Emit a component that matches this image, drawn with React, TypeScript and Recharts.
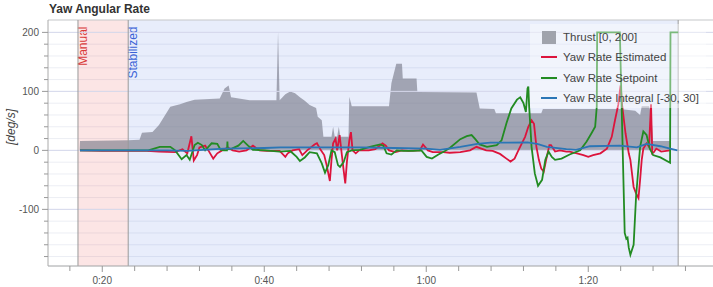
import React from 'react'
import {
  Area,
  CartesianGrid,
  ComposedChart,
  Legend,
  Line,
  ReferenceArea,
  ReferenceLine,
  XAxis,
  YAxis,
} from 'recharts'

// [time in s, value]
const thrust: [number, number][] = [
  [17.2, 0], [17.25, 16], [23.2, 17], [24.6, 18], [24.9, 30], [26.2, 31], [27.0, 43],
  [28.4, 74], [29.6, 78], [30.4, 82], [31.4, 86], [34.5, 88], [35.1, 105], [35.6, 110],
  [35.9, 90], [38.2, 85], [41.5, 85], [41.7, 201], [41.9, 85], [42.6, 95], [43.2, 100],
  [43.8, 97], [44.4, 90], [45.0, 84], [45.6, 77], [46.4, 72], [46.6, 57], [47.1, 51],
  [47.3, 23], [48.3, 23], [48.5, 40], [48.7, 23], [49.0, 23], [49.2, 40], [49.4, 23],
  [50.4, 23], [50.5, 91], [50.8, 75], [55.4, 75], [55.7, 114], [56.3, 147], [57.0, 147],
  [57.1, 122], [58.8, 122], [58.9, 99], [66.2, 98], [66.6, 71], [68.4, 70], [68.6, 63],
  [74.2, 63], [74.4, 70], [83.9, 70], [85.8, 67], [86.4, 60], [86.6, 75], [87.5, 75],
  [87.8, 60], [88.0, 16], [90.1, 16], [90.2, 0],
]

const estimated: [number, number][] = [
  [17.25, 0], [20, -1], [23.2, -1], [25.5, -1], [27.0, -2], [29.0, -3], [29.9, 2],
  [30.5, -5], [31.0, 24], [31.3, -17], [31.7, -8], [32.0, 5], [32.7, 8], [33.1, 0],
  [33.7, -14], [34.2, -5], [34.8, 0], [35.5, 5], [36.1, 0], [36.9, -2], [37.8, 0],
  [38.6, 8], [39.4, 0], [40.3, -1], [41.9, -1], [42.6, -11], [42.9, -5], [43.5, 0],
  [44.3, 2], [44.7, -8], [45.3, 0], [46.2, 10], [46.5, 12], [47.0, 0], [47.4, -8],
  [47.7, -25], [48.1, -52], [48.3, -16], [48.5, 12], [48.8, 20], [49.0, 0], [49.3, 26],
  [49.6, -10], [49.8, -34], [50.0, -56], [50.2, -20], [50.5, 17], [50.7, 31], [50.9, 0],
  [51.3, -5], [51.7, 0], [52.9, 0], [53.7, 2], [54.6, 12], [55.0, 8], [55.4, 0],
  [56.2, -3], [57.0, 0], [57.8, -1], [59.2, 0], [59.6, 10], [60.2, 0], [60.8, -3],
  [62.1, -3], [62.9, -4], [64.2, -3], [65.4, 0], [66.2, 6], [66.8, 3], [67.4, 0],
  [68.2, -1], [69.1, -6], [69.9, -14], [70.4, -19], [70.9, -14], [71.3, -2], [71.8, 12],
  [72.2, 23], [72.6, 40], [73.0, 51], [73.3, 45], [73.6, 6], [73.9, -16], [74.2, -31],
  [74.5, -36], [74.8, -16], [75.2, 9], [75.4, 9], [75.9, -2], [76.5, 0], [77.3, -2],
  [77.7, -2], [78.6, -5], [79.4, -8], [80.0, -11], [80.6, -8], [81.5, -5], [82.3, 3],
  [82.9, 23], [83.3, 51], [83.7, 77], [83.9, 100], [84.0, 110], [84.2, 74], [84.6, 29],
  [85.0, -5], [85.2, -16], [85.6, -62], [85.9, -73], [86.2, -81], [86.4, -50], [86.6, -16],
  [86.8, 3], [87.2, 12], [87.5, 6], [87.75, 78], [87.9, -5], [88.1, -3], [88.4, 3],
  [89.0, -2], [90.1, 0],
]

const setpoint: [number, number][] = [
  [17.25, 0], [25.7, 0], [27.1, 6], [28.4, 6], [29.0, 0], [29.8, -15], [30.4, -8],
  [30.8, -16], [31.4, 9], [31.8, 13], [32.3, 9], [32.7, 0], [33.1, 6], [33.5, 12],
  [34.2, 11], [34.6, 1], [35.0, 0], [35.4, 0], [35.45, 15], [35.5, 2], [36.0, 3],
  [36.8, 8], [37.4, 16], [38.0, 8], [38.6, 1], [40.1, 0], [41.9, -2], [43.2, -1],
  [44.0, -11], [44.4, -18], [45.0, -12], [45.6, -3], [46.5, -5], [47.1, -22], [47.5, -38],
  [47.9, -25], [48.3, 0], [48.7, -3], [49.1, -25], [49.35, -28], [49.8, -20], [50.2, -3],
  [50.8, 0], [51.8, 1], [53.05, 6], [54.3, 10], [54.7, 8], [55.1, -5], [55.7, -7],
  [56.35, 0], [57.2, -1], [58.4, -1], [59.4, 0], [60.05, -11], [60.7, -14], [61.5, -7],
  [62.3, -1], [62.9, 4], [64.2, 19], [65.0, 24], [65.6, 26], [66.0, 20], [66.6, 10],
  [67.5, 6], [68.7, 9], [69.3, 17], [69.9, 46], [70.5, 71], [71.2, 86], [71.6, 90],
  [72.0, 80], [72.3, 65], [72.5, 105], [72.6, 108], [72.7, 75], [73.0, 6], [73.4, -39],
  [73.8, -60], [74.3, -50], [74.7, -16], [75.1, -2], [75.5, -11], [75.9, -16], [76.7, -14],
  [77.7, -7], [79.0, 0], [79.8, 15], [80.4, 29], [80.85, 40], [81.05, 74], [81.1, 200],
  [83.9, 200], [84.5, -140], [84.7, -150], [84.85, -148], [85.0, -165], [85.2, -177],
  [85.6, -160], [85.9, -79], [86.4, 6], [86.8, 32], [87.2, 26], [87.6, 3], [88.0, -8],
  [88.9, -12], [90.1, -21], [90.15, 200], [91.1, 200],
]

const integral: [number, number][] = [
  [17.25, 0], [28, 0], [30.5, -1], [31.5, 0], [35, 3], [40, 4], [42, 5], [52, 5],
  [56, 4], [60, 3], [61.7, 1], [64.2, 6], [66.3, 11], [67.9, 13], [72.5, 13.5],
  [73.7, 11], [74.9, 6], [77.3, 2], [78.5, 1], [80.2, 7], [83.9, 8], [86.0, 5],
  [87.2, 11], [88.9, 7], [90.1, 3], [91.0, 0],
]

const xTicks = [16, 20, 24, 28, 32, 36, 40, 44, 48, 52, 56, 60, 64, 68, 72, 76, 80, 84, 88, 92]
const xLabelled = [20, 40, 60, 80]
const yTicks = [-180, -160, -140, -120, -100, -80, -60, -40, -20, 0, 20, 40, 60, 80, 100, 120, 140, 160, 180, 200]
const yMajor = [-100, 0, 100, 200]

const modes = [
  { name: 'Manual', from: 17.0, to: 23.2, fill: 'rgb(235,70,70)', text: '#d93a3a' },
  { name: 'Stabilized', from: 23.2, to: 91.1, fill: 'rgb(65,105,225)', text: '#3a62d6' },
]

const series = [
  { key: 'thrust', name: 'Thrust [0, 200]', color: '#a0a3ac' },
  { key: 'estimated', name: 'Yaw Rate Estimated', color: '#dc143c' },
  { key: 'setpoint', name: 'Yaw Rate Setpoint', color: '#228b22' },
  { key: 'integral', name: 'Yaw Rate Integral [-30, 30]', color: '#2b76b6' },
]

type Row = { t: number; [k: string]: number }

const byTime = new Map<number, Row>()
const addSeries = (key: string, pts: [number, number][]) => {
  pts.forEach(([t, v]) => {
    const row = byTime.get(t) ?? { t }
    row[key] = v
    byTime.set(t, row)
  })
}
addSeries('thrust', thrust)
addSeries('estimated', estimated)
addSeries('setpoint', setpoint)
addSeries('integral', integral)
const data = Array.from(byTime.values()).sort((a, b) => a.t - b.t)

const fmtTime = (t: number) => `${Math.floor(t / 60)}:${String(t % 60).padStart(2, '0')}`

const YTick = (props: any) => {
  const { x, y, payload } = props
  const major = yMajor.includes(payload.value)
  return (
    <g>
      <line x1={x - (major ? 6 : 4)} y1={y} x2={x} y2={y} stroke="#999" />
      {major && (
        <text x={x - 9} y={y} dy={3.5} textAnchor="end" fontSize={10} fill="#555">
          {payload.value}
        </text>
      )}
    </g>
  )
}

const XTick = (props: any) => {
  const { x, y, payload } = props
  const major = xLabelled.includes(payload.value)
  return (
    <g>
      <line x1={x} y1={y} x2={x} y2={y + (major ? 6 : 5)} stroke="#999" />
      {major && (
        <text x={x} y={y + 17.5} textAnchor="middle" fontSize={10} fill="#555">
          {fmtTime(payload.value)}
        </text>
      )}
    </g>
  )
}

const ModeLabel = (name: string, color: string) => (props: any) => {
  const { viewBox } = props
  const px = viewBox.x + 9
  const py = viewBox.y + 6.5
  return (
    <text
      x={px}
      y={py}
      transform={`rotate(-90 ${px} ${py})`}
      textAnchor="end"
      fontSize={12}
      fill={color}
    >
      {name}
    </text>
  )
}

const renderLegend = () => (
  <div
    style={{
      background: 'rgba(255,255,255,0.4)',
      padding: '3px 6px 0 11px',
      fontSize: 11.5,
      color: '#444',
      lineHeight: '20.3px',
    }}
  >
    {series.map((s) => (
      <div key={s.key} style={{ display: 'flex', alignItems: 'center' }}>
        {s.key === 'thrust' ? (
          <span style={{ display: 'inline-block', width: 14, height: 13, margin: '0 1px', background: s.color }} />
        ) : (
          <span style={{ display: 'inline-block', width: 16, height: 2, background: s.color }} />
        )}
        <span style={{ marginLeft: 6, whiteSpace: 'nowrap' }}>{s.name}</span>
      </div>
    ))}
  </div>
)

const App = () => {
  return (
    <div
      style={{
        position: 'absolute',
        left: 0,
        top: 0,
        width: 713,
        height: 287,
        fontFamily: '"Liberation Sans", Arial, sans-serif',
        background: '#fff',
      }}
    >
      <div
        style={{
          position: 'absolute',
          left: 49,
          top: 1,
          fontSize: 12,
          fontWeight: 'bold',
          color: '#333',
          lineHeight: '16px',
        }}
      >
        Yaw Angular Rate
      </div>
      <ComposedChart
        width={713}
        height={287}
        data={data}
        margin={{ top: 20, right: 0, left: 0, bottom: 0 }}
      >
        {modes.map((m) => (
          <ReferenceArea
            key={m.name}
            x1={m.from}
            x2={m.to}
            fill={m.fill}
            fillOpacity={m.name === 'Manual' ? 0.14 : 0.12}
            stroke="none"
            label={ModeLabel(m.name, m.text)}
          />
        ))}
        <CartesianGrid vertical={false} stroke="#eceef4" />
        {yMajor.map((v) => (
          <ReferenceLine key={v} y={v} stroke="#d6d9ec" />
        ))}
        <ReferenceLine y={221} stroke="#cfcfcf" />
        {[17.0, 23.2, 91.1].map((v) => (
          <ReferenceLine key={v} x={v} stroke="#9a9a9a" />
        ))}
        <XAxis
          dataKey="t"
          type="number"
          domain={[13.3, 95.4]}
          ticks={xTicks}
          allowDataOverflow
          height={21}
          tickSize={0}
          tickMargin={0}
          tickLine={false}
          tick={<XTick />}
          stroke="#aaa"
          interval={0}
        />
        <YAxis
          type="number"
          domain={[-196, 221]}
          ticks={yTicks}
          allowDataOverflow
          width={48}
          tickSize={0}
          tickMargin={0}
          tickLine={false}
          tick={<YTick />}
          stroke="#aaa"
          interval={0}
          label={{
            content: () => (
              <text
                x={15}
                y={127}
                transform="rotate(-90 15 127)"
                textAnchor="middle"
                fontSize={12}
                fontStyle="italic"
                fill="#444"
              >
                [deg/s]
              </text>
            ),
          }}
        />
        <Legend
          content={renderLegend}
          layout="horizontal"
          verticalAlign="middle"
          wrapperStyle={{ left: 530, top: 24, width: 176 }}
        />
        <Area
          dataKey="thrust"
          name="Thrust [0, 200]"
          type="linear"
          baseValue={0}
          fill="rgb(118,120,134)"
          fillOpacity={0.62}
          stroke="none"
          connectNulls
          dot={false}
          activeDot={false}
          isAnimationActive={false}
        />
        <Line
          dataKey="estimated"
          name="Yaw Rate Estimated"
          type="linear"
          stroke="#dc143c"
          strokeWidth={1.8}
          connectNulls
          dot={false}
          activeDot={false}
          isAnimationActive={false}
        />
        <Line
          dataKey="setpoint"
          name="Yaw Rate Setpoint"
          type="linear"
          stroke="#228b22"
          strokeWidth={1.8}
          connectNulls
          dot={false}
          activeDot={false}
          isAnimationActive={false}
        />
        <Line
          dataKey="integral"
          name="Yaw Rate Integral [-30, 30]"
          type="linear"
          stroke="#2b76b6"
          strokeWidth={1.8}
          connectNulls
          dot={false}
          activeDot={false}
          isAnimationActive={false}
        />
      </ComposedChart>
    </div>
  )
}

export default App
